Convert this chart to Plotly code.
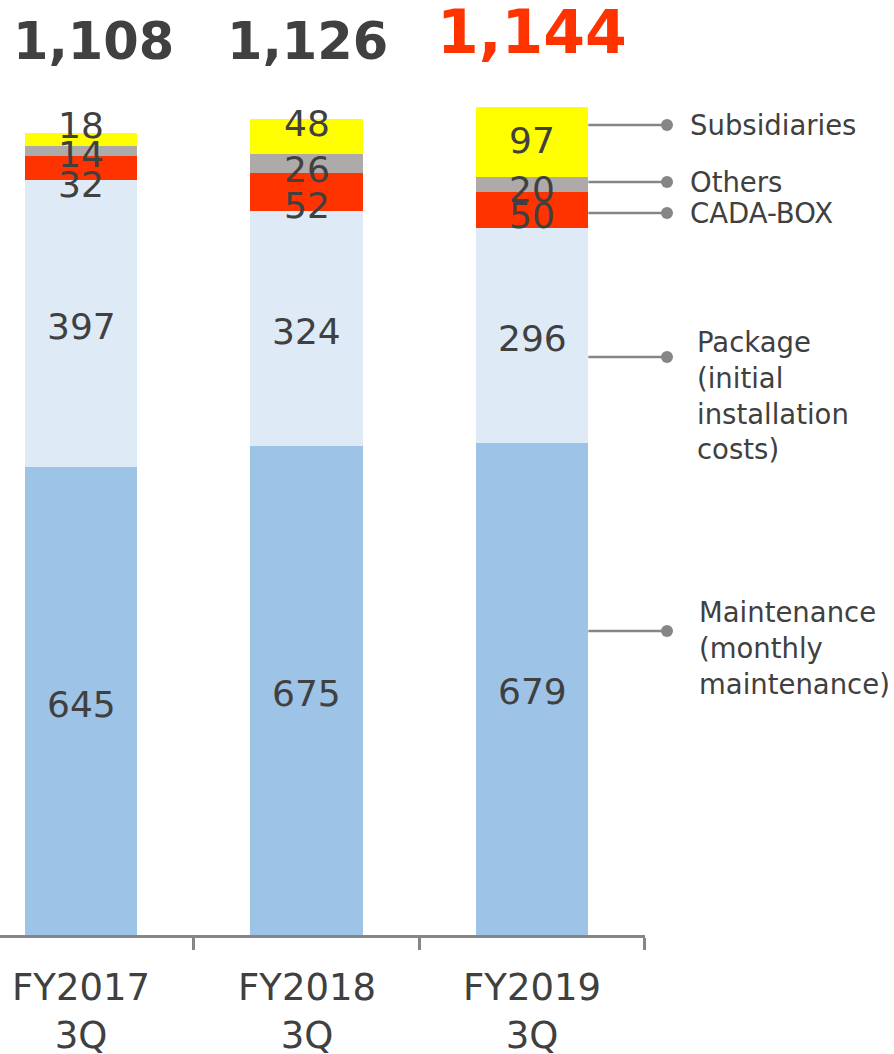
import plotly.graph_objects as go

# Sales breakdown by quarter (stacked)
categories = ["FY2017<br>3Q", "FY2018<br>3Q", "FY2019<br>3Q"]
totals = [1108, 1126, 1144]
total_labels = ["1,108", "1,126", "1,144"]

series_names = ["Maintenance", "Package", "CADA-BOX", "Others", "Subsidiaries"]
maintenance = [645, 675, 679]
package = [397, 324, 296]
cada_box = [32, 52, 50]
others = [14, 26, 20]
subsidiaries = [18, 48, 97]

legend_texts = [
    "Maintenance<br>(monthly<br>maintenance)",
    "Package<br>(initial<br>installation<br>costs)",
    "CADA-BOX",
    "Others",
    "Subsidiaries",
]

# ---- styling ----
W, H = 894, 1054
AXIS_PX = 935            # pixel row of the baseline
PX_PER_UNIT = 0.725      # vertical scale
colors = ["#9DC3E6", "#DEEBF7", "#FF3300", "#AEAAAA", "#FFFF00"]
TEXT = "#404040"
HIGHLIGHT = "#FF3300"
LINE = "#868686"
FONT = "DejaVu Sans"
BAR_W = 0.5
STEP_PX = 225.5
X0_PX = 81

# nudges (px) applied to the small stacked labels so they don't collide
label_nudge = [
    [0, 0, 0],        # Maintenance
    [0, 0, 0],        # Package
    [14, 11, 2],      # CADA-BOX
    [0, 3, 2],        # Others
    [-17, -16, -5],   # Subsidiaries
]

# total label styling: (font size, x shift px, center row px)
total_style = [(51, 12, 41), (51, 1, 41), (60, 0, 32)]

series = [maintenance, package, cada_box, others, subsidiaries]
x = [0, 1, 2]

fig = go.Figure()
for name, vals, col in zip(series_names, series, colors):
    fig.add_trace(go.Bar(
        x=x, y=vals, name=name, width=BAR_W,
        marker=dict(color=col, line=dict(width=0)),
        hoverinfo="skip",
    ))

ymax = AXIS_PX / PX_PER_UNIT

annotations = []
# values inside the stacked segments
base = [0, 0, 0]
for si, vals in enumerate(series):
    for i, v in enumerate(vals):
        annotations.append(dict(
            x=x[i], y=base[i] + v / 2, xref="x", yref="y",
            text=str(v), showarrow=False,
            font=dict(family=FONT, size=36, color=TEXT),
            yshift=-label_nudge[si][i] - 3,
        ))
        base[i] += v

# totals above the bars
for i, t in enumerate(total_labels):
    size, dx, cy = total_style[i]
    annotations.append(dict(
        x=x[i], y=(AXIS_PX - cy) / PX_PER_UNIT, xref="x", yref="y",
        text=t, showarrow=False, xshift=dx,
        font=dict(family=FONT, size=size, weight="bold",
                  color=HIGHLIGHT if i == 2 else TEXT),
    ))

# category labels under the axis
for i, c in enumerate(categories):
    annotations.append(dict(
        x=x[i], y=0, xref="x", yref="paper",
        text=c, showarrow=False, yanchor="middle",
        yshift=-(1011.5 - AXIS_PX),
        font=dict(family=FONT, size=37, color=TEXT),
    ))

# side labels with leader lines
leader_px = [631, 357, 213, 182, 125]
text_px = [(697, 648), (695, 395), (688, 213), (688, 182), (688, 125)]
bar_right_px = X0_PX + 2 * STEP_PX + BAR_W * STEP_PX / 2
dot_px = 667
shapes = []
for ly, (tx, ty), txt in zip(leader_px, text_px, legend_texts):
    py = (AXIS_PX - ly) / AXIS_PX
    shapes.append(dict(type="line", xref="paper", yref="paper",
                       x0=bar_right_px / W, x1=dot_px / W, y0=py, y1=py,
                       line=dict(color=LINE, width=2.5)))
    r = 6
    shapes.append(dict(type="circle", xref="paper", yref="paper",
                       x0=(dot_px - r) / W, x1=(dot_px + r) / W,
                       y0=(AXIS_PX - ly - r) / AXIS_PX, y1=(AXIS_PX - ly + r) / AXIS_PX,
                       fillcolor=LINE, line=dict(width=0)))
    annotations.append(dict(
        x=tx / W, y=(AXIS_PX - ty) / AXIS_PX, xref="paper", yref="paper",
        text=txt, showarrow=False, xanchor="left", yanchor="middle", align="left",
        font=dict(family=FONT, size=27.5, color=TEXT),
    ))

x_lo = -X0_PX / STEP_PX
x_hi = x_lo + 645 / STEP_PX

fig.update_layout(
    width=W, height=H,
    barmode="stack",
    showlegend=False,
    plot_bgcolor="white", paper_bgcolor="white",
    margin=dict(l=0, r=0, t=0, b=H - AXIS_PX, pad=0),
    xaxis=dict(
        domain=[0, 645 / W], range=[x_lo, x_hi],
        showgrid=False, zeroline=False,
        showline=True, linecolor=LINE, linewidth=2.5,
        tickmode="array", tickvals=[0.5, 1.5, 2.5], ticks="outside",
        ticklen=12, tickwidth=2.5, tickcolor=LINE, showticklabels=False,
        fixedrange=True,
    ),
    yaxis=dict(range=[0, ymax], visible=False, fixedrange=True),
    annotations=annotations,
    shapes=shapes,
)

fig.write_html("out.html")
